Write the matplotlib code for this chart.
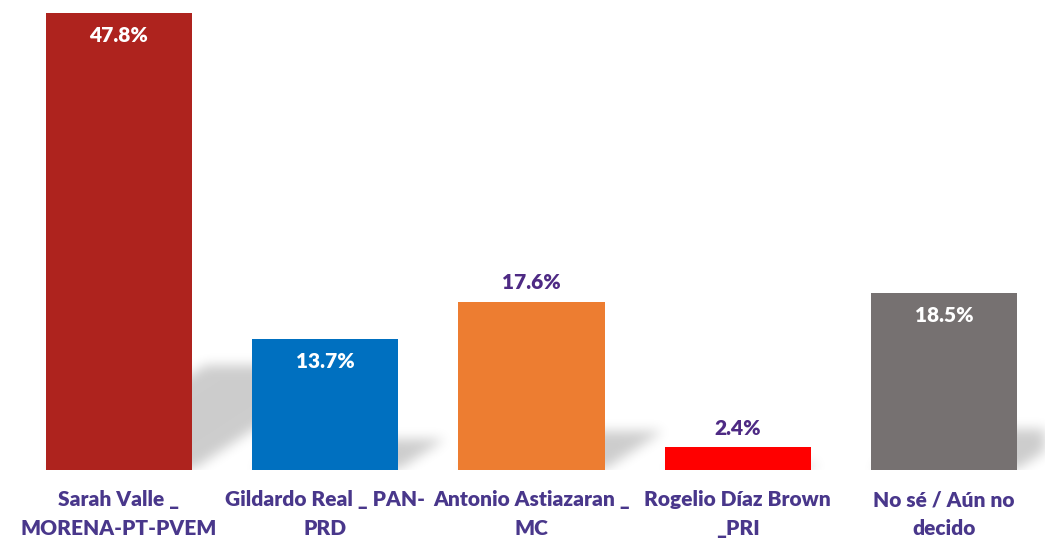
import numpy as np
import matplotlib
matplotlib.use("Agg")
import matplotlib.pyplot as plt
from matplotlib.path import Path

categories = ["Sarah Valle _\nMORENA-PT-PVEM", "Gildardo Real _ PAN-\nPRD",
              "Antonio Astiazaran _\nMC", "Rogelio Díaz Brown\n_PRI",
              "No sé / Aún no\ndecido"]
values = [47.8, 13.7, 17.6, 2.4, 18.5]
labels = ["47.8%", "13.7%", "17.6%", "2.4%", "18.5%"]
colors = ["#AE231E", "#0070C0", "#ED7D31", "#FF0000", "#767171"]
inside = [True, True, False, False, True]

W, H = 1045, 540
fig = plt.figure(figsize=(W / 100, H / 100), dpi=100)
ax = fig.add_axes([0, 70 / H, 1, 470 / H])

xpx_per_unit = 206.25
x0 = 119
xlim = ((0 - x0) / xpx_per_unit, (W - x0) / xpx_per_unit)
ylim = (0, 49.16)
ax.set_xlim(*xlim)
ax.set_ylim(*ylim)
ypx_per_unit = 470 / ylim[1]

bw = 0.71
x = np.arange(len(values))

# soft perspective shadows
nx, ny = 1045, 470
gx = np.linspace(xlim[0], xlim[1], nx)
gy = np.linspace(ylim[1], ylim[0], ny)
GX, GY = np.meshgrid(gx, gy)
pts = np.column_stack([GX.ravel(), GY.ravel()])
mask = np.zeros(GX.shape)
for i, v in enumerate(values):
    hpx = v * ypx_per_unit
    dx = 0.35 * hpx / xpx_per_unit
    sh = 0.23 * v
    poly = Path([(i - bw / 2, 0), (i + bw / 2, 0), (i + bw / 2 + dx, sh),
                 (i - bw / 2 + dx, sh), (i - bw / 2, 0)])
    m = poly.contains_points(pts).reshape(GX.shape)
    mask = np.maximum(mask, m.astype(float))
k = np.exp(-0.5 * (np.arange(-15, 16) / 6.0) ** 2)
k /= k.sum()
mask = np.apply_along_axis(lambda r: np.convolve(r, k, mode="same"), 1, mask)
mask = np.apply_along_axis(lambda c: np.convolve(c, k, mode="same"), 0, mask)
rgba = np.zeros((ny, nx, 4))
rgba[..., 3] = mask * 0.2
ax.imshow(rgba, extent=(xlim[0], xlim[1], ylim[0], ylim[1]), aspect="auto",
          zorder=1, interpolation="bilinear")

ax.bar(x, values, width=bw, color=colors, zorder=2, edgecolor="none")

fw = "heavy"
for i, (v, lab, ins) in enumerate(zip(values, labels, inside)):
    if ins:
        ax.text(i, v - 22 / ypx_per_unit, lab, ha="center", va="center",
                color="white", fontsize=15, fontweight=fw, family="Lato", zorder=3)
    else:
        ax.text(i, v + 19 / ypx_per_unit, lab, ha="center", va="center",
                color="#4E2A84", fontsize=15, fontweight=fw, family="Lato", zorder=3)

for i, c in enumerate(categories):
    fig.text((x0 + i * xpx_per_unit) / W, 1 - 514 / H, c, ha="center", va="center",
             color="#49378B", fontsize=15, fontweight=fw, family="Lato",
             linespacing=1.6)

ax.axis("off")
fig.savefig("out.png", dpi=100, facecolor="white")
